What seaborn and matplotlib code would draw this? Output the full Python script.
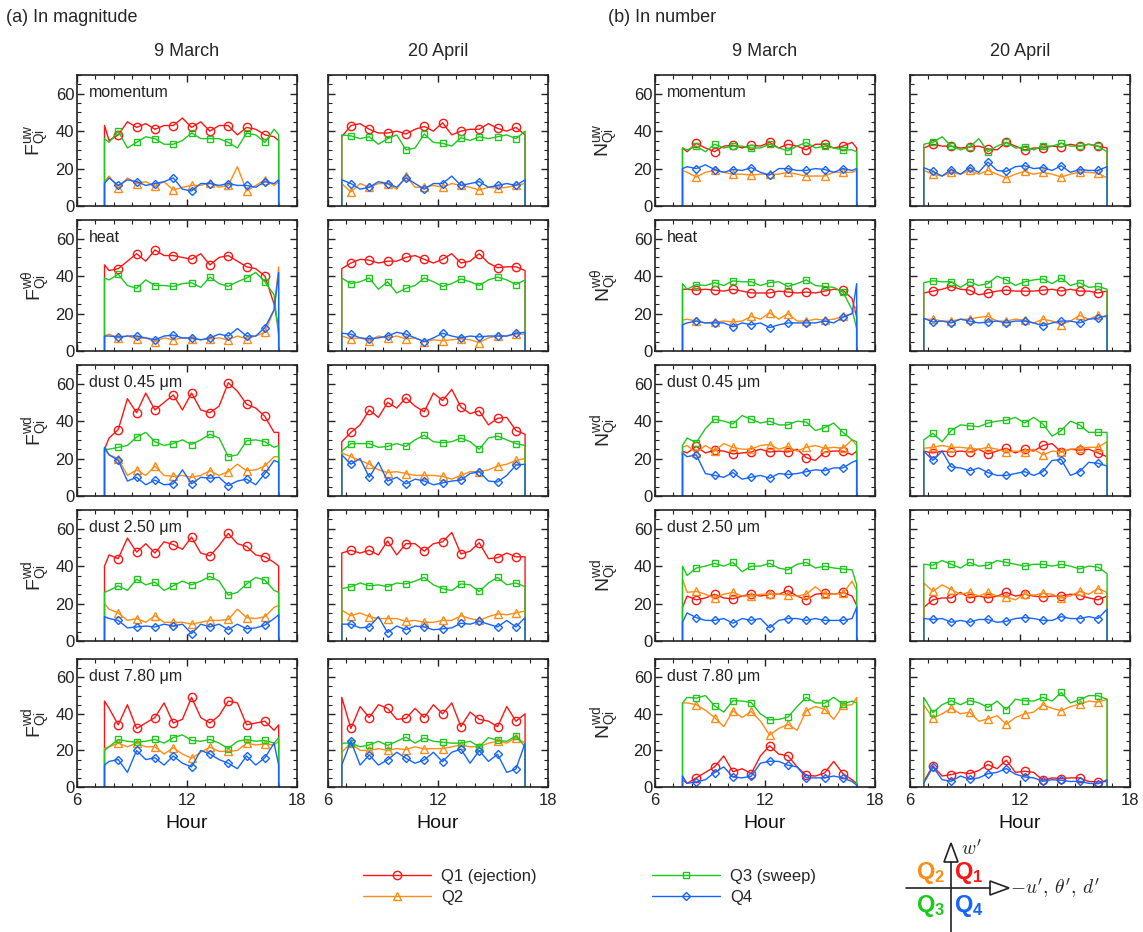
import matplotlib
matplotlib.use('Agg')
import matplotlib.pyplot as plt
import seaborn as sns
from matplotlib.lines import Line2D
from matplotlib.patches import Polygon

# Sampling hours (half-hour resolution, markers every hour)
hours_mar = [7.5, 7.75, 8.25, 8.75, 9.25, 9.75, 10.25, 10.75, 11.25, 11.75, 12.25,
             12.75, 13.25, 13.75, 14.25, 14.75, 15.25, 15.75, 16.25, 16.75, 17.0]
hours_apr = [6.75, 7.25, 7.75, 8.25, 8.75, 9.25, 9.75, 10.25, 10.75, 11.25, 11.75,
             12.25, 12.75, 13.25, 13.75, 14.25, 14.75, 15.25, 15.75, 16.25, 16.75]
marks_mar = [2, 4, 6, 8, 10, 12, 14, 16, 18]
marks_apr = [1, 3, 5, 7, 9, 11, 13, 15, 17, 19]

# ---- (a) magnitude, momentum
f_uw_mar_q1 = [43, 35, 38, 45, 42, 44, 41, 43, 43, 47, 42, 45, 40, 43, 43, 38, 42, 41, 38, 37, 35]
f_uw_mar_q2 = [13, 16, 9.5, 15, 12, 13, 10.5, 13, 8.5, 10, 11, 11, 12.5, 10, 11, 21, 8, 11, 14, 11, 13]
f_uw_mar_q3 = [36, 34, 40, 31, 34, 37, 36, 33, 33, 35, 39, 36, 36, 36, 34, 31, 39, 38, 34, 41, 38]
f_uw_mar_q4 = [12, 15, 11, 14, 13, 11, 12, 13, 15, 9, 8, 12, 12, 11, 12, 11, 11, 10, 13, 12, 14]
f_uw_apr_q1 = [37, 43, 44, 41, 39, 39, 40, 38.5, 41, 42.5, 40, 44.5, 38, 40, 41, 41, 44, 41.5, 40, 42, 38]
f_uw_apr_q2 = [12, 7.5, 12, 10, 12, 12, 9, 16, 10, 10, 11, 10, 12, 11, 10, 8.5, 10, 9.5, 10, 11, 12]
f_uw_apr_q3 = [38, 37.5, 36, 37, 33, 36, 38, 30, 31, 38.5, 34, 33.5, 32, 36.5, 35, 37, 36, 37, 38, 36, 40]
f_uw_apr_q4 = [14, 12, 9, 10, 13, 12, 10, 15, 12, 9, 12, 12, 16, 11, 12, 13, 10, 11, 12, 11, 14]
# ---- (b) number, momentum
n_uw_mar_q1 = [31, 29, 33.5, 31, 29, 32, 32.5, 31, 32.5, 32, 34, 31, 33, 32, 30, 33, 33, 31, 32, 34, 31]
n_uw_mar_q2 = [19, 18, 15.5, 18, 19, 18, 17, 17, 16.5, 17, 17, 17, 18, 17, 16, 16, 16, 18, 18, 18, 19]
n_uw_mar_q3 = [31, 30, 32, 29, 33, 31, 32, 32, 31, 31, 33, 31, 29.5, 32, 34, 31, 32, 31, 30, 30, 29]
n_uw_mar_q4 = [20, 21, 20, 22, 19.5, 18, 19.5, 19, 20.5, 18, 16.5, 20, 20, 19, 19, 20, 19.5, 18, 20, 19, 20]
n_uw_apr_q1 = [31, 33, 32, 32, 31, 31.5, 32, 30.5, 30, 34, 32, 30, 31, 31, 32, 31.5, 33, 32, 33, 32, 31]
n_uw_apr_q2 = [19, 17, 16, 18, 17, 19, 17, 19, 17, 15, 17, 18.5, 17, 18, 17, 15.5, 17, 18, 18, 17.5, 15]
n_uw_apr_q3 = [33, 34, 37, 32, 30, 31.5, 36, 29, 32, 34, 31, 31.5, 30, 32, 32, 33.5, 32, 32, 33, 32, 29]
n_uw_apr_q4 = [20.5, 18.5, 16, 19.5, 17, 20.5, 18, 23.5, 19, 18.5, 21, 21.5, 20, 20.5, 19, 21.5, 18, 19.5, 19, 19, 21]
# ---- heat
f_wt_mar_q1 = [46, 43, 44, 48, 52, 48, 54, 51, 51, 50, 49, 52, 46, 50, 51, 48, 45, 44, 40, 25, 12]
f_wt_mar_q2 = [8, 9, 7, 8, 6.5, 7, 5, 7, 6, 7, 6.5, 6, 6.5, 7, 6, 8, 6.5, 8, 10, 22, 45]
f_wt_mar_q3 = [39, 38, 41, 35, 33.5, 38, 35, 35, 34.5, 36, 36.5, 34, 39.5, 36, 34.5, 37, 39, 42, 37, 30, 8]
f_wt_mar_q4 = [8, 8, 7.5, 8, 8, 7, 6, 8, 8.5, 7, 7, 6, 7, 9, 8, 12, 8, 8, 12.5, 22, 42]
f_wt_apr_q1 = [44, 47, 49, 48.5, 47, 48, 48, 50, 51, 49, 47, 49, 52, 47, 48, 52, 47, 44.5, 45, 45, 43]
f_wt_apr_q2 = [8, 6.5, 7, 5.5, 8, 7, 8, 6.5, 7, 5, 6, 5.5, 6, 6.5, 6, 4.5, 7, 8, 8, 9, 9]
f_wt_apr_q3 = [39, 36, 37, 39, 33, 37, 31, 33.5, 35, 39, 37, 34.5, 36, 38.5, 37, 35, 38, 39.5, 38, 35.5, 38]
f_wt_apr_q4 = [9.5, 9, 7, 6.5, 7, 8, 10, 9, 7, 5, 7, 9.5, 8, 7, 8, 7.5, 8, 8, 8, 9.5, 10]
n_wt_mar_q1 = [33, 33, 32.5, 33, 32.5, 32, 33, 32, 31, 31, 31, 32, 31.5, 31, 31.5, 31, 32, 33, 32.5, 28, 18]
n_wt_mar_q2 = [16.5, 17, 16, 15, 15.5, 16, 15.5, 16, 18.5, 17, 20.5, 17, 20, 16, 16, 17, 16.5, 17, 18.5, 20, 24]
n_wt_mar_q3 = [36, 33, 35.5, 35, 36.5, 35, 37.5, 37, 37, 35, 36.5, 37, 34.5, 36, 38, 35, 34.5, 34, 31.5, 22, 12]
n_wt_mar_q4 = [14, 15, 16, 15, 15, 15, 13, 15, 14, 15, 12.5, 14, 15, 15, 15, 15, 16, 15, 18, 20, 36]
n_wt_apr_q1 = [31, 32, 33, 34.5, 33, 32.5, 30, 31, 32, 32.5, 32, 32, 32, 32.5, 33, 32, 33, 32, 32, 31, 32]
n_wt_apr_q2 = [17, 17, 16, 16, 17, 17, 18, 18.5, 16, 16, 17, 16.5, 15, 17, 16, 14, 16, 19, 17, 19, 18]
n_wt_apr_q3 = [36.5, 37.5, 37, 37, 34, 37, 35, 36, 40, 38, 35, 37, 38, 38.5, 36, 39, 35, 36.5, 34, 34.5, 33]
n_wt_apr_q4 = [17.5, 15.5, 16, 15, 17, 16, 15, 15.5, 16, 15, 16, 16, 15, 13.5, 15, 16, 16, 15, 17, 17.5, 19]
# ---- dust 0.45 um
f_d1_mar_q1 = [25, 31, 35.5, 52, 44.5, 55, 46, 50, 54, 46, 55, 46, 44.5, 48, 60.5, 56, 49, 47, 42.5, 34, 34]
f_d1_mar_q2 = [25, 22, 20, 11, 14, 11, 16, 11, 10.5, 11, 10, 11, 13.5, 11, 13, 17, 13.5, 14, 16, 21, 21]
f_d1_mar_q3 = [25, 25, 26, 27, 31.5, 34, 29, 27, 28, 30, 27.5, 30, 33, 31, 21, 22, 29.5, 30, 29, 26, 27]
f_d1_mar_q4 = [26, 22, 19, 8, 10, 6, 8.5, 6, 6.5, 14, 6.5, 10, 9.5, 10, 5.5, 8, 9, 6, 12, 19, 18]
f_d1_apr_q1 = [29, 34, 38, 46, 42, 50, 47, 52.5, 48, 45, 55, 51, 57, 47.5, 44, 45.5, 38, 41.5, 42, 35, 33]
f_d1_apr_q2 = [23, 21, 19, 17, 14, 12.5, 13, 12, 11, 11, 11, 10.5, 9, 11, 13, 13, 14, 16, 17, 19, 20]
f_d1_apr_q3 = [24, 28, 28, 28, 26, 26.5, 28, 26.5, 30, 32.5, 29, 28.5, 29, 31, 29, 25, 31, 32, 30, 28, 27]
f_d1_apr_q4 = [22, 17, 20, 10, 18, 8, 10, 6.5, 9, 8, 6, 7, 8, 8.5, 12, 13, 8, 7.5, 11, 16.5, 17]
n_d1_mar_q1 = [24, 23, 26.5, 23, 24.5, 24, 22.5, 23, 23.5, 25, 23.5, 24, 23.5, 25, 20.5, 19, 23.5, 24, 24, 22, 24]
n_d1_mar_q2 = [26, 27, 23, 27, 24, 28, 26, 25, 25, 27, 27.5, 25, 26.5, 24, 26, 27, 25.5, 26, 25.5, 30, 27]
n_d1_mar_q3 = [27, 31, 28.5, 36, 41, 40, 38.5, 43, 41, 39, 40, 38, 38, 40, 39.5, 35, 36.5, 39, 34, 30, 29]
n_d1_mar_q4 = [23, 21, 22, 12, 11, 10, 12.5, 9, 10, 11, 9.5, 12, 11.5, 12, 13, 14, 13.5, 15, 15, 18, 19]
n_d1_apr_q1 = [24, 23, 24, 23.5, 24, 23.5, 25, 22.5, 24, 25.5, 23, 25, 24, 27, 28, 23.5, 25, 24.5, 25, 23, 21]
n_d1_apr_q2 = [25.5, 26, 27, 26, 26, 25.5, 25, 26, 25, 23.5, 24, 23.5, 25, 22, 24, 23.5, 25, 25.5, 26, 26, 29]
n_d1_apr_q3 = [30, 33.5, 29, 35, 38, 37.5, 37, 39, 40, 40.5, 42, 39, 42, 38.5, 32, 35, 40, 38, 34, 34, 34]
n_d1_apr_q4 = [24, 19, 24, 15.5, 15, 13.5, 15, 12.5, 11, 11, 12, 13, 11, 13, 19, 19.5, 11, 13, 18, 17.5, 16]
# ---- dust 2.50 um
f_d2_mar_q1 = [40, 46, 44, 55, 47.5, 52, 47, 53, 51.5, 49, 55.5, 47, 45.5, 51, 57.5, 52, 50.5, 46, 45, 42, 40]
f_d2_mar_q2 = [20, 17, 15, 11, 12, 10, 13.5, 10, 10, 10, 9, 10, 11, 11, 11.5, 17, 12.5, 12, 13, 18, 19]
f_d2_mar_q3 = [26, 27, 29.5, 27, 33, 30, 31.5, 27, 29.5, 32, 30, 32, 34.5, 32, 24.5, 26, 30.5, 34, 32.5, 27, 26]
f_d2_mar_q4 = [13, 12, 11, 7, 7.5, 8, 7.5, 9, 8, 9, 4, 9, 7.5, 9, 6, 9, 6.5, 7, 8.5, 12, 14]
f_d2_apr_q1 = [47, 48.5, 47, 48.5, 46, 53.5, 46, 52, 52, 48, 52, 53, 58, 46.5, 48, 52.5, 44, 44.5, 47, 45, 45]
f_d2_apr_q2 = [16.5, 13.5, 15, 13, 12, 12, 12, 10.5, 11, 10, 10, 11, 11, 13.5, 12, 11, 13, 14.5, 14, 15, 16]
f_d2_apr_q3 = [28, 29, 31, 29.5, 30, 29, 31, 30.5, 32, 34, 30, 28, 27, 30.5, 30, 26.5, 31, 34, 30, 31, 29]
f_d2_apr_q4 = [9, 9, 7, 7.5, 13, 4.5, 8, 6, 8, 7.5, 6, 6.5, 7, 9.5, 9, 10.5, 9, 7.5, 11, 7.5, 12.5]
n_d2_mar_q1 = [18, 24, 22, 23, 25, 23, 22.5, 24, 25, 24, 25, 25, 27, 24, 22, 25, 25.5, 25, 26, 24, 19]
n_d2_mar_q2 = [33, 26, 26.5, 25, 23, 25, 26, 24, 24, 25, 25, 25, 24.5, 24, 25, 29, 25, 25, 25.5, 32, 27]
n_d2_mar_q3 = [40, 35, 39, 40, 41.5, 40, 42, 37, 40, 40, 41.5, 39, 38, 41, 42, 39, 40, 39, 38.5, 38, 30]
n_d2_mar_q4 = [10, 15, 12.5, 11, 11, 12, 9.5, 12, 11, 12, 7, 11, 12, 12, 11, 12, 11, 11, 11, 12, 18]
n_d2_apr_q1 = [18, 22, 23, 23, 26, 23, 24, 23, 24, 26, 24, 25, 24, 23.5, 24, 24, 25, 24.5, 23, 22, 24]
n_d2_apr_q2 = [31, 26.5, 30, 27.5, 25, 26, 24, 26, 24, 23.5, 22, 25, 24.5, 25.5, 25, 23, 24, 26.5, 25, 28, 26]
n_d2_apr_q3 = [41, 40.5, 43, 41, 39, 42, 40, 40.5, 43, 42, 41, 40, 41, 41, 40, 41, 40, 38.5, 40, 39.5, 36]
n_d2_apr_q4 = [12, 11.5, 12, 10, 11, 10, 11.5, 11.5, 10, 10.5, 12, 12.5, 12, 11, 11, 13, 12, 12, 13, 12, 17]
# ---- dust 7.80 um
f_d3_mar_q1 = [47, 43, 34, 45, 32, 35, 38, 46, 35, 37, 49, 38, 35, 39, 47, 46, 34, 35, 36, 31, 34]
f_d3_mar_q2 = [21, 22, 24, 22, 24, 22, 22, 18, 21.5, 18, 15.7, 19, 21.8, 19.5, 19.5, 20, 24, 23, 23.5, 23, 25]
f_d3_mar_q3 = [20, 22, 26, 25, 24.5, 25, 26, 24, 27, 28.5, 25.5, 25, 26, 24, 21, 25, 26, 25, 25.5, 24, 27]
f_d3_mar_q4 = [12, 14, 15, 8, 20, 15, 16, 12, 17, 13, 11, 20, 18, 15, 13, 10, 17, 12, 16, 24, 12]
f_d3_apr_q1 = [49, 32, 44, 38, 45, 43, 37, 37.5, 43, 38, 45, 40, 46, 33, 41, 37, 36, 33, 44, 36, 40]
f_d3_apr_q2 = [19, 24, 20, 20, 21, 20, 21, 20.5, 22, 20.8, 21, 21, 22, 23, 22, 22, 24, 25, 24, 27, 24]
f_d3_apr_q3 = [24, 24, 22, 23, 25, 22.7, 25, 27.3, 24, 26.8, 25, 24.5, 24, 24, 25, 22, 27, 25.5, 25, 28, 22]
f_d3_apr_q4 = [12, 25, 12, 17.5, 12, 14.8, 19, 15.7, 13, 14.8, 19, 13.8, 19, 20.7, 13, 19.9, 14, 17.9, 8, 9.8, 24]
n_d3_mar_q1 = [4, 2, 5, 8, 11, 17, 8.3, 10, 7.3, 17, 22.6, 18, 17.1, 11, 6.4, 6, 7.7, 14, 7.3, 4, 2]
n_d3_mar_q2 = [46, 46, 45, 42, 38, 33, 41.7, 38, 41.3, 36, 28.4, 32, 34.3, 31, 41.7, 44, 42.6, 37, 44.6, 45, 49]
n_d3_mar_q3 = [46, 49, 48.6, 50, 44.4, 41, 47.2, 47, 46.2, 40, 36.7, 37, 38.2, 44, 49, 46, 45.9, 49, 45.3, 47, 46]
n_d3_mar_q4 = [6, 2, 2.8, 4, 7.9, 11, 5.5, 5, 5.9, 13, 14.1, 14, 11.9, 11, 5, 5, 5, 6, 5, 3, 1]
n_d3_apr_q1 = [3, 11.6, 6, 6.8, 8, 7.3, 9, 12.3, 10, 14.7, 8, 8.6, 8, 3.7, 5, 4.6, 5, 5, 3, 2.8, 3]
n_d3_apr_q2 = [45, 37.6, 40, 43.1, 40, 40.9, 36, 37.2, 39, 34.3, 38, 40, 41, 45, 43, 41.7, 44, 45.3, 47, 46.4, 48]
n_d3_apr_q3 = [49, 40.7, 45, 47.2, 45, 47.3, 46, 43.5, 47, 42.2, 48, 47.2, 47, 49, 47, 51.7, 46, 47.7, 50, 49.9, 48]
n_d3_apr_q4 = [2, 11, 4, 3.1, 6, 4.2, 5, 7.3, 8, 10.1, 7, 5.5, 5, 3.1, 4, 3.7, 3, 3.1, 2, 1.8, 4]

row_tags = ['momentum', 'heat', 'dust 0.45 μm', 'dust 2.50 μm', 'dust 7.80 μm']
f_ylabels = [r'$\mathrm{F}_{\mathrm{Qi}}^{\mathrm{uw}}$', r'$\mathrm{F}_{\mathrm{Qi}}^{\mathrm{w\theta}}$',
             r'$\mathrm{F}_{\mathrm{Qi}}^{\mathrm{wd}}$', r'$\mathrm{F}_{\mathrm{Qi}}^{\mathrm{wd}}$',
             r'$\mathrm{F}_{\mathrm{Qi}}^{\mathrm{wd}}$']
n_ylabels = [s.replace('F', 'N') for s in f_ylabels]
quad_names = ['Q1 (ejection)', 'Q2', 'Q3 (sweep)', 'Q4']

# rows x columns (F Mar, F Apr, N Mar, N Apr)
grid = [
    [[f_uw_mar_q1, f_uw_mar_q2, f_uw_mar_q3, f_uw_mar_q4], [f_uw_apr_q1, f_uw_apr_q2, f_uw_apr_q3, f_uw_apr_q4],
     [n_uw_mar_q1, n_uw_mar_q2, n_uw_mar_q3, n_uw_mar_q4], [n_uw_apr_q1, n_uw_apr_q2, n_uw_apr_q3, n_uw_apr_q4]],
    [[f_wt_mar_q1, f_wt_mar_q2, f_wt_mar_q3, f_wt_mar_q4], [f_wt_apr_q1, f_wt_apr_q2, f_wt_apr_q3, f_wt_apr_q4],
     [n_wt_mar_q1, n_wt_mar_q2, n_wt_mar_q3, n_wt_mar_q4], [n_wt_apr_q1, n_wt_apr_q2, n_wt_apr_q3, n_wt_apr_q4]],
    [[f_d1_mar_q1, f_d1_mar_q2, f_d1_mar_q3, f_d1_mar_q4], [f_d1_apr_q1, f_d1_apr_q2, f_d1_apr_q3, f_d1_apr_q4],
     [n_d1_mar_q1, n_d1_mar_q2, n_d1_mar_q3, n_d1_mar_q4], [n_d1_apr_q1, n_d1_apr_q2, n_d1_apr_q3, n_d1_apr_q4]],
    [[f_d2_mar_q1, f_d2_mar_q2, f_d2_mar_q3, f_d2_mar_q4], [f_d2_apr_q1, f_d2_apr_q2, f_d2_apr_q3, f_d2_apr_q4],
     [n_d2_mar_q1, n_d2_mar_q2, n_d2_mar_q3, n_d2_mar_q4], [n_d2_apr_q1, n_d2_apr_q2, n_d2_apr_q3, n_d2_apr_q4]],
    [[f_d3_mar_q1, f_d3_mar_q2, f_d3_mar_q3, f_d3_mar_q4], [f_d3_apr_q1, f_d3_apr_q2, f_d3_apr_q3, f_d3_apr_q4],
     [n_d3_mar_q1, n_d3_mar_q2, n_d3_mar_q3, n_d3_mar_q4], [n_d3_apr_q1, n_d3_apr_q2, n_d3_apr_q3, n_d3_apr_q4]],
]

sns.set_theme(style='ticks')
plt.rcParams['font.family'] = ['Liberation Sans', 'DejaVu Sans']
plt.rcParams['mathtext.fontset'] = 'custom'
plt.rcParams['mathtext.rm'] = 'Liberation Sans'
plt.rcParams['mathtext.it'] = 'Liberation Sans:italic'
plt.rcParams['mathtext.bf'] = 'Liberation Sans:bold'

colors = ['#ff1414', '#ff8c14', '#1ec81e', '#1464ff']
markers = ['o', '^', 's', 'D']
msizes = [6, 5.8, 4.2, 4.2]

W, H = 1143, 932
fig = plt.figure(figsize=(W / 100, H / 100), dpi=100)
col_left = [77, 328, 655, 910]
col_w = 220
row_top = [75, 220, 365, 510, 659]
row_h = [131, 131, 131, 131, 128]

for r in range(5):
    for c in range(4):
        ax = fig.add_axes([col_left[c] / W, 1 - (row_top[r] + row_h[r]) / H, col_w / W, row_h[r] / H])
        hrs = hours_mar if c % 2 == 0 else hours_apr
        mk = marks_mar if c % 2 == 0 else marks_apr
        xs = [hrs[0]] + hrs + [hrs[-1]]
        for q in range(4):
            ys = [0] + grid[r][c][q] + [0]
            sns.lineplot(x=xs, y=ys, ax=ax, estimator=None, sort=False, color=colors[q], lw=1.0,
                         marker=markers[q], markevery=[i + 1 for i in mk], ms=msizes[q],
                         mfc='none', mec=colors[q], mew=1.0)
        ax.set_xlim(6, 18)
        ax.set_ylim(0, 70)
        ax.set_xticks([6, 12, 18])
        ax.set_xticks(range(6, 19), minor=True)
        ax.set_yticks([0, 20, 40, 60])
        ax.set_yticks(range(0, 71, 5), minor=True)
        ax.tick_params(which='both', direction='in', top=True, right=True, colors='#222222',
                       labelsize=12, pad=2)
        ax.tick_params(axis='x', pad=4)
        ax.tick_params(which='major', length=5, width=1)
        ax.tick_params(which='minor', length=3, width=0.8)
        for s in ax.spines.values():
            s.set_linewidth(1.2)
            s.set_color('#222222')
        if c % 2 == 1:
            ax.set_yticklabels([])
        else:
            ax.text(0.055, 0.865, row_tags[r], transform=ax.transAxes, fontsize=11.5,
                    va='center', color='#222222')
        if r < 4:
            ax.set_xticklabels([])
            ax.set_xlabel('')
        else:
            ax.set_xlabel('Hour', fontsize=14, labelpad=5, color='#111111')
        ax.set_ylabel('')

    yc = 1 - (row_top[r] + row_h[r] / 2) / H
    fig.text(37 / W, yc, f_ylabels[r], rotation=90, fontsize=14, ha='center', va='center')
    fig.text(606 / W, yc, n_ylabels[r], rotation=90, fontsize=14, ha='center', va='center')

# titles
fig.text(6 / W, 1 - 17 / H, '(a) In magnitude', fontsize=13, va='center')
fig.text(608 / W, 1 - 17 / H, '(b) In number', fontsize=13, va='center')
for c, t in enumerate(['9 March', '20 April', '9 March', '20 April']):
    fig.text((col_left[c] + col_w / 2) / W, 1 - 52 / H, t, fontsize=13, ha='center', va='center')

# legend
handles = [Line2D([], [], color=colors[q], marker=markers[q], ms=msizes[q], mfc='none',
                  mec=colors[q], mew=1.0, lw=1.0) for q in range(4)]
fig.legend(handles, quad_names, ncol=2, loc='upper left', bbox_to_anchor=(363 / W, 1 - 869 / H),
           frameon=False, fontsize=12, handlelength=4.1, handletextpad=0.6, columnspacing=6.9,
           labelspacing=0.35, borderpad=0, borderaxespad=0)

# quadrant sketch
ov = fig.add_axes([0, 0, 1, 1])
ov.set_xlim(0, W)
ov.set_ylim(H, 0)
ov.axis('off')
ov.plot([951, 951], [862, 932], color='#222222', lw=1.2)
ov.plot([906, 990], [888, 888], color='#222222', lw=1.2)
ov.add_patch(Polygon([(944, 862), (958, 862), (951, 843)], closed=True, fill=False, ec='#222222', lw=1.2))
ov.add_patch(Polygon([(990, 881), (990, 895), (1009, 888)], closed=True, fill=False, ec='#222222', lw=1.2))
ov.text(961, 849, r"$w'$", fontsize=14, math_fontfamily='cm', va='center', ha='left')
ov.text(1010, 888, r"$-u',\,\theta',\,d'$", fontsize=14, math_fontfamily='cm', va='center', ha='left')
for lab, col, x, y in [('2', colors[1], 931, 873), ('1', colors[0], 969, 873),
                       ('3', colors[2], 931, 906), ('4', colors[3], 969, 906)]:
    ov.text(x, y, r'$\mathbf{Q}_{\mathbf{' + lab + '}}$', color=col, fontsize=17,
            ha='center', va='center')

fig.savefig('out.png', dpi=100)
